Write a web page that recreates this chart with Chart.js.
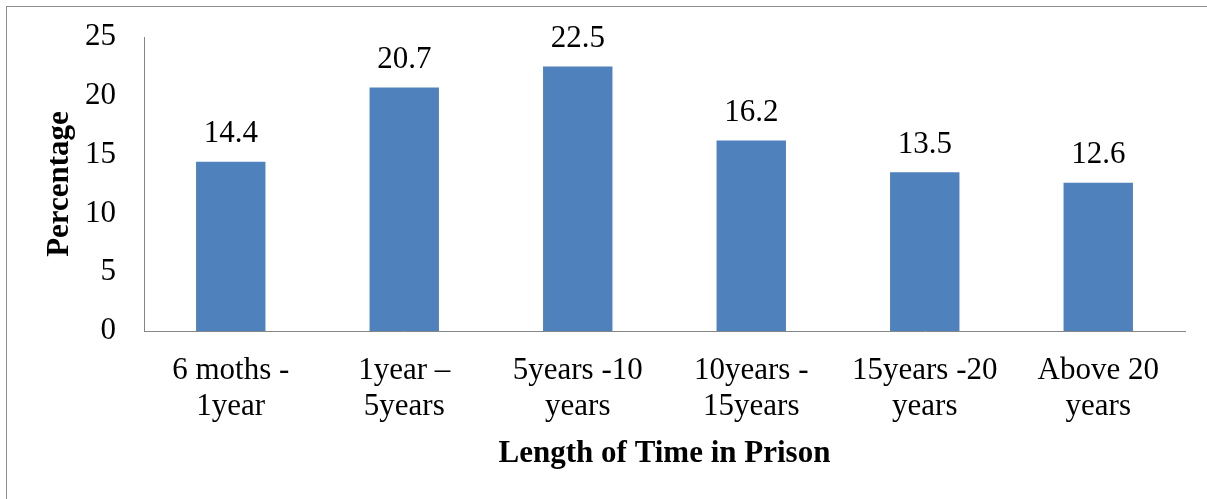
<!DOCTYPE html>
<html>
<head>
<meta charset="utf-8">
<script src="https://cdn.jsdelivr.net/npm/chart.js@4.4.0/dist/chart.umd.min.js"></script>
<style>
  html, body { margin: 0; padding: 0; background: #fff; overflow: hidden; }
  #frame {
    position: absolute; left: 6px; top: 6px; width: 1400px; height: 800px;
    border-left: 1px solid #8c8c8c; border-top: 1px solid #8c8c8c;
  }
  #wrap { position: absolute; left: 0; top: 0; width: 1207px; height: 499px; }
</style>
</head>
<body>
<div id="frame"></div>
<div id="wrap"><canvas id="grafico"></canvas></div>
<script>
const categorias = [
    ["6 moths -", "1year"],
    ["1year \u2013", "5years"],
    ["5years -10", "years"],
    ["10years -", "15years"],
    ["15years -20", "years"],
    ["Above 20", "years"]
];
const porcentajes = [14.4, 20.7, 22.5, 16.2, 13.5, 12.6];
const ticksY = [0, 5, 10, 15, 20, 25];

const fuente = "'Liberation Serif', 'Times New Roman', serif";

// etiquetas de valor encima de cada barra
const etiquetasValor = {
    id: "etiquetasValor",
    afterDatasetsDraw(chart) {
        const ctx = chart.ctx;
        const meta = chart.getDatasetMeta(0);
        ctx.save();
        ctx.font = "31px " + fuente;
        ctx.fillStyle = "#000";
        ctx.textAlign = "center";
        ctx.textBaseline = "alphabetic";
        meta.data.forEach((bar, i) => {
            ctx.fillText(porcentajes[i].toFixed(1), bar.x, bar.y - 19.5);
        });
        ctx.restore();
    }
};

const ctx = document.getElementById("grafico").getContext("2d");
new Chart(ctx, {
    type: "bar",
    data: {
        labels: categorias,
        datasets: [{
            data: porcentajes,
            backgroundColor: "#4F81BD",
            borderWidth: 0,
            barPercentage: 0.4,
            categoryPercentage: 1
        }]
    },
    options: {
        responsive: true,
        maintainAspectRatio: false,
        animation: false,
        layout: { padding: { left: 0, top: 37, right: 22, bottom: 0 } },
        plugins: {
            legend: { display: false },
            tooltip: { enabled: false }
        },
        scales: {
            x: {
                grid: { display: false, drawTicks: false },
                border: { color: "#868686", width: 1 },
                ticks: {
                    color: "#000",
                    maxRotation: 0,
                    autoSkip: false,
                    padding: 22,
                    font: { family: fuente, size: 31, lineHeight: 1.16 }
                },
                title: {
                    display: true,
                    text: "Length of Time in Prison",
                    color: "#000",
                    font: { family: fuente, size: 31, weight: "bold", lineHeight: 1.2 },
                    padding: { top: 0, bottom: 26 }
                },
                afterFit: scale => { scale.height = 168; }
            },
            y: {
                min: 0,
                max: 25,
                afterBuildTicks: scale => { scale.ticks = ticksY.map(v => ({ value: v })); },
                grid: { display: false, drawTicks: false },
                border: { color: "#868686", width: 1 },
                ticks: {
                    color: "#000",
                    padding: 28,
                    font: { family: fuente, size: 31 }
                },
                title: {
                    display: true,
                    text: "Percentage",
                    color: "#000",
                    font: { family: fuente, size: 31, weight: "bold", lineHeight: 1.2 },
                    padding: { top: 41, bottom: 0 }
                },
                afterFit: scale => {
                    scale.width = 144;
                    scale.paddingTop = 0;
                    scale.paddingBottom = 0;
                }
            }
        }
    },
    plugins: [etiquetasValor]
});
</script>
</body>
</html>
